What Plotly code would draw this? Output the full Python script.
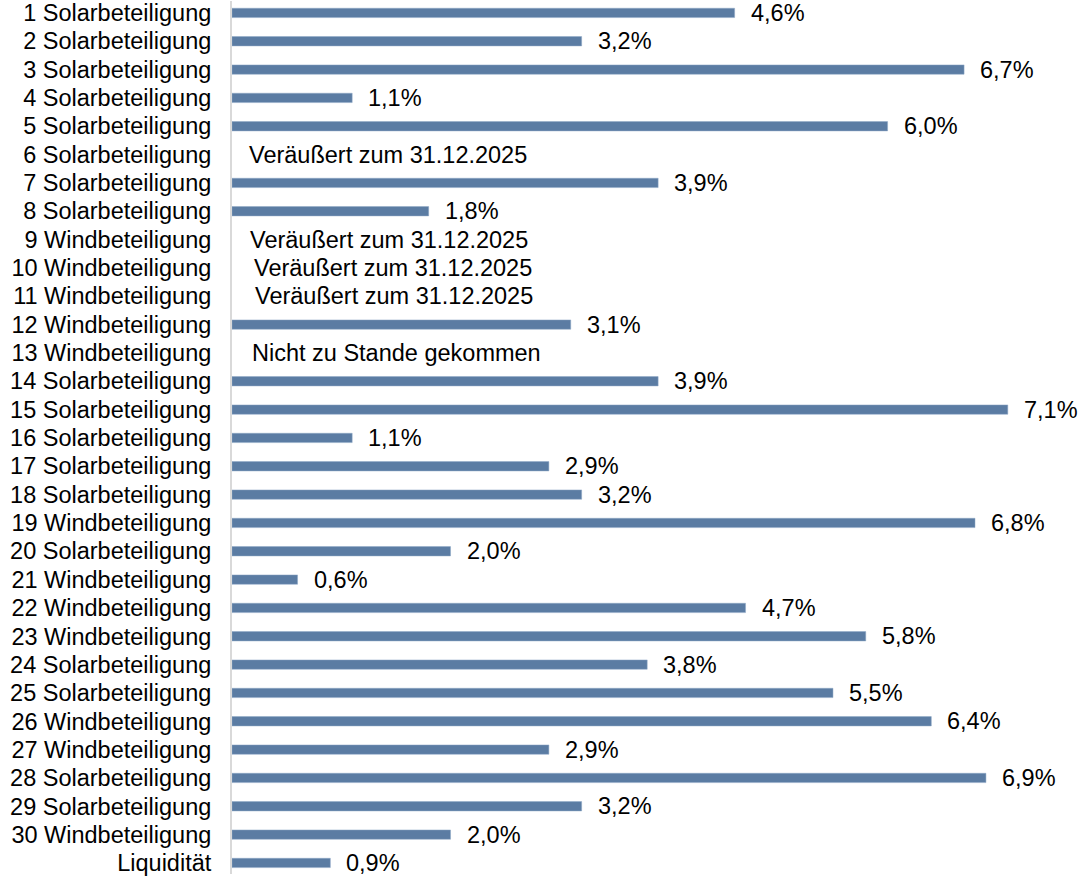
import plotly.graph_objects as go

categories = [
    "1 Solarbeteiligung", "2 Solarbeteiligung", "3 Solarbeteiligung", "4 Solarbeteiligung",
    "5 Solarbeteiligung", "6 Solarbeteiligung", "7 Solarbeteiligung", "8 Solarbeteiligung",
    "9 Windbeteiligung", "10 Windbeteiligung", "11 Windbeteiligung", "12 Windbeteiligung",
    "13 Windbeteiligung", "14 Solarbeteiligung", "15 Solarbeteiligung", "16 Solarbeteiligung",
    "17 Solarbeteiligung", "18 Solarbeteiligung", "19 Windbeteiligung", "20 Solarbeteiligung",
    "21 Windbeteiligung", "22 Windbeteiligung", "23 Windbeteiligung", "24 Solarbeteiligung",
    "25 Solarbeteiligung", "26 Windbeteiligung", "27 Windbeteiligung", "28 Solarbeteiligung",
    "29 Solarbeteiligung", "30 Windbeteiligung", "Liquidität",
]
# None = no bar (sold / not realised)
values = [4.6, 3.2, 6.7, 1.1, 6.0, None, 3.9, 1.8, None, None, None, 3.1, None, 3.9, 7.1,
          1.1, 2.9, 3.2, 6.8, 2.0, 0.6, 4.7, 5.8, 3.8, 5.5, 6.4, 2.9, 6.9, 3.2, 2.0, 0.9]
notes = {
    "6 Solarbeteiligung": "Veräußert zum 31.12.2025",
    "9 Windbeteiligung": "Veräußert zum 31.12.2025",
    "10 Windbeteiligung": "Veräußert zum 31.12.2025",
    "11 Windbeteiligung": "Veräußert zum 31.12.2025",
    "13 Windbeteiligung": "Nicht zu Stande gekommen",
}
# small horizontal offsets of the note texts (px), as in the original
note_shift = {"6 Solarbeteiligung": 15, "9 Windbeteiligung": 16, "10 Windbeteiligung": 20,
              "11 Windbeteiligung": 21, "13 Windbeteiligung": 18}

font = dict(family="Liberation Sans, Arial, sans-serif", size=23.5, color="#000000")

fig = go.Figure()
fig.add_trace(go.Bar(
    y=categories, x=values, orientation="h",
    marker=dict(color="#5b7ca3", line=dict(color="#8fa8c6", width=0.5)),
    width=0.33,
    hoverinfo="x+y",
))

annotations = []
for cat, v in zip(categories, values):
    if v is not None:
        annotations.append(dict(x=v, y=cat, xref="x", yref="y", xanchor="left",
                                text=f"{v:.1f}".replace(".", ",") + "%",
                                showarrow=False, xshift=14, font=font))
for cat, txt in notes.items():
    annotations.append(dict(x=0, y=cat, xref="x", yref="y", xanchor="left",
                            text=txt, showarrow=False, xshift=note_shift[cat], font=font))

fig.update_layout(
    width=1081, height=876,
    margin=dict(l=232, r=0, t=0, b=0),
    plot_bgcolor="white", paper_bgcolor="white",
    font=font,
    showlegend=False,
    annotations=annotations,
    xaxis=dict(range=[0, 7.77], visible=False, fixedrange=True),
    yaxis=dict(type="category", range=[30.39, -0.42], showline=True,
               linecolor="#d9d9d9", linewidth=2, showgrid=False, ticks="",
               ticklabelstandoff=14, tickfont=font, fixedrange=True),
)

# drop the browser's default body margin so the chart sits at the page corner
fig.write_html("out.html", config={"displayModeBar": False},
               post_script="document.body.style.margin='0';")
